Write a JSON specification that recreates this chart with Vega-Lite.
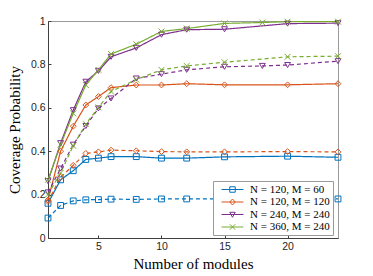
{
  "$schema": "https://vega.github.io/schema/vega-lite/v6.json",
  "width": 290,
  "height": 217,
  "autosize": {"type": "none"},
  "padding": {"left": 48, "top": 21, "right": 35, "bottom": 38},
  "background": "white",
  "config": {
    "view": {"stroke": "#9a9a9a", "strokeWidth": 1},
    "axis": {
      "grid": false,
      "domainColor": "#404040",
      "tickColor": "#404040",
      "tickSize": -3,
      "labelFont": "Liberation Sans",
      "labelFontSize": 10.5,
      "labelColor": "#262626",
      "titleFont": "Liberation Serif",
      "titleFontSize": 15,
      "titleFontWeight": "normal",
      "titleColor": "#000000"
    }
  },
  "datasets": {
    "curves": [
      {"x": 1, "y": 0.16, "series": "N = 120, M = 60", "style": "solid"},
      {"x": 2, "y": 0.268, "series": "N = 120, M = 60", "style": "solid"},
      {"x": 3, "y": 0.31, "series": "N = 120, M = 60", "style": "solid"},
      {"x": 4, "y": 0.362, "series": "N = 120, M = 60", "style": "solid"},
      {"x": 5, "y": 0.368, "series": "N = 120, M = 60", "style": "solid"},
      {"x": 6, "y": 0.375, "series": "N = 120, M = 60", "style": "solid"},
      {"x": 8, "y": 0.375, "series": "N = 120, M = 60", "style": "solid"},
      {"x": 10, "y": 0.368, "series": "N = 120, M = 60", "style": "solid"},
      {"x": 12, "y": 0.368, "series": "N = 120, M = 60", "style": "solid"},
      {"x": 15, "y": 0.374, "series": "N = 120, M = 60", "style": "solid"},
      {"x": 20, "y": 0.377, "series": "N = 120, M = 60", "style": "solid"},
      {"x": 24, "y": 0.372, "series": "N = 120, M = 60", "style": "solid"},
      {"x": 1, "y": 0.092, "series": "N = 120, M = 60", "style": "dashed"},
      {"x": 2, "y": 0.15, "series": "N = 120, M = 60", "style": "dashed"},
      {"x": 3, "y": 0.171, "series": "N = 120, M = 60", "style": "dashed"},
      {"x": 4, "y": 0.176, "series": "N = 120, M = 60", "style": "dashed"},
      {"x": 5, "y": 0.177, "series": "N = 120, M = 60", "style": "dashed"},
      {"x": 6, "y": 0.179, "series": "N = 120, M = 60", "style": "dashed"},
      {"x": 8, "y": 0.178, "series": "N = 120, M = 60", "style": "dashed"},
      {"x": 10, "y": 0.18, "series": "N = 120, M = 60", "style": "dashed"},
      {"x": 12, "y": 0.18, "series": "N = 120, M = 60", "style": "dashed"},
      {"x": 15, "y": 0.18, "series": "N = 120, M = 60", "style": "dashed"},
      {"x": 20, "y": 0.18, "series": "N = 120, M = 60", "style": "dashed"},
      {"x": 24, "y": 0.18, "series": "N = 120, M = 60", "style": "dashed"},
      {"x": 1, "y": 0.175, "series": "N = 120, M = 120", "style": "solid"},
      {"x": 2, "y": 0.4, "series": "N = 120, M = 120", "style": "solid"},
      {"x": 3, "y": 0.515, "series": "N = 120, M = 120", "style": "solid"},
      {"x": 4, "y": 0.613, "series": "N = 120, M = 120", "style": "solid"},
      {"x": 5, "y": 0.652, "series": "N = 120, M = 120", "style": "solid"},
      {"x": 6, "y": 0.693, "series": "N = 120, M = 120", "style": "solid"},
      {"x": 8, "y": 0.705, "series": "N = 120, M = 120", "style": "solid"},
      {"x": 10, "y": 0.705, "series": "N = 120, M = 120", "style": "solid"},
      {"x": 12, "y": 0.711, "series": "N = 120, M = 120", "style": "solid"},
      {"x": 15, "y": 0.706, "series": "N = 120, M = 120", "style": "solid"},
      {"x": 20, "y": 0.706, "series": "N = 120, M = 120", "style": "solid"},
      {"x": 24, "y": 0.711, "series": "N = 120, M = 120", "style": "solid"},
      {"x": 1, "y": 0.168, "series": "N = 120, M = 120", "style": "dashed"},
      {"x": 2, "y": 0.28, "series": "N = 120, M = 120", "style": "dashed"},
      {"x": 3, "y": 0.335, "series": "N = 120, M = 120", "style": "dashed"},
      {"x": 4, "y": 0.39, "series": "N = 120, M = 120", "style": "dashed"},
      {"x": 5, "y": 0.397, "series": "N = 120, M = 120", "style": "dashed"},
      {"x": 6, "y": 0.405, "series": "N = 120, M = 120", "style": "dashed"},
      {"x": 8, "y": 0.402, "series": "N = 120, M = 120", "style": "dashed"},
      {"x": 10, "y": 0.398, "series": "N = 120, M = 120", "style": "dashed"},
      {"x": 12, "y": 0.397, "series": "N = 120, M = 120", "style": "dashed"},
      {"x": 15, "y": 0.397, "series": "N = 120, M = 120", "style": "dashed"},
      {"x": 20, "y": 0.398, "series": "N = 120, M = 120", "style": "dashed"},
      {"x": 24, "y": 0.397, "series": "N = 120, M = 120", "style": "dashed"},
      {"x": 1, "y": 0.262, "series": "N = 240, M = 240", "style": "solid"},
      {"x": 2, "y": 0.437, "series": "N = 240, M = 240", "style": "solid"},
      {"x": 3, "y": 0.589, "series": "N = 240, M = 240", "style": "solid"},
      {"x": 4, "y": 0.72, "series": "N = 240, M = 240", "style": "solid"},
      {"x": 5, "y": 0.77, "series": "N = 240, M = 240", "style": "solid"},
      {"x": 6, "y": 0.835, "series": "N = 240, M = 240", "style": "solid"},
      {"x": 8, "y": 0.876, "series": "N = 240, M = 240", "style": "solid"},
      {"x": 10, "y": 0.937, "series": "N = 240, M = 240", "style": "solid"},
      {"x": 12, "y": 0.96, "series": "N = 240, M = 240", "style": "solid"},
      {"x": 15, "y": 0.962, "series": "N = 240, M = 240", "style": "solid"},
      {"x": 20, "y": 0.988, "series": "N = 240, M = 240", "style": "solid"},
      {"x": 24, "y": 0.99, "series": "N = 240, M = 240", "style": "solid"},
      {"x": 1, "y": 0.21, "series": "N = 240, M = 240", "style": "dashed"},
      {"x": 2, "y": 0.32, "series": "N = 240, M = 240", "style": "dashed"},
      {"x": 3, "y": 0.43, "series": "N = 240, M = 240", "style": "dashed"},
      {"x": 4, "y": 0.516, "series": "N = 240, M = 240", "style": "dashed"},
      {"x": 5, "y": 0.597, "series": "N = 240, M = 240", "style": "dashed"},
      {"x": 6, "y": 0.643, "series": "N = 240, M = 240", "style": "dashed"},
      {"x": 8, "y": 0.735, "series": "N = 240, M = 240", "style": "dashed"},
      {"x": 10, "y": 0.755, "series": "N = 240, M = 240", "style": "dashed"},
      {"x": 12, "y": 0.775, "series": "N = 240, M = 240", "style": "dashed"},
      {"x": 15, "y": 0.789, "series": "N = 240, M = 240", "style": "dashed"},
      {"x": 18, "y": 0.793, "series": "N = 240, M = 240", "style": "dashed"},
      {"x": 20, "y": 0.797, "series": "N = 240, M = 240", "style": "dashed"},
      {"x": 24, "y": 0.815, "series": "N = 240, M = 240", "style": "dashed"},
      {"x": 1, "y": 0.268, "series": "N = 360, M = 240", "style": "solid"},
      {"x": 2, "y": 0.43, "series": "N = 360, M = 240", "style": "solid"},
      {"x": 3, "y": 0.574, "series": "N = 360, M = 240", "style": "solid"},
      {"x": 4, "y": 0.705, "series": "N = 360, M = 240", "style": "solid"},
      {"x": 5, "y": 0.775, "series": "N = 360, M = 240", "style": "solid"},
      {"x": 6, "y": 0.848, "series": "N = 360, M = 240", "style": "solid"},
      {"x": 8, "y": 0.893, "series": "N = 360, M = 240", "style": "solid"},
      {"x": 10, "y": 0.952, "series": "N = 360, M = 240", "style": "solid"},
      {"x": 12, "y": 0.965, "series": "N = 360, M = 240", "style": "solid"},
      {"x": 15, "y": 0.989, "series": "N = 360, M = 240", "style": "solid"},
      {"x": 18, "y": 0.993, "series": "N = 360, M = 240", "style": "solid"},
      {"x": 20, "y": 0.997, "series": "N = 360, M = 240", "style": "solid"},
      {"x": 24, "y": 0.997, "series": "N = 360, M = 240", "style": "solid"},
      {"x": 1, "y": 0.2, "series": "N = 360, M = 240", "style": "dashed"},
      {"x": 2, "y": 0.3, "series": "N = 360, M = 240", "style": "dashed"},
      {"x": 3, "y": 0.425, "series": "N = 360, M = 240", "style": "dashed"},
      {"x": 4, "y": 0.525, "series": "N = 360, M = 240", "style": "dashed"},
      {"x": 5, "y": 0.602, "series": "N = 360, M = 240", "style": "dashed"},
      {"x": 6, "y": 0.675, "series": "N = 360, M = 240", "style": "dashed"},
      {"x": 8, "y": 0.73, "series": "N = 360, M = 240", "style": "dashed"},
      {"x": 10, "y": 0.775, "series": "N = 360, M = 240", "style": "dashed"},
      {"x": 12, "y": 0.793, "series": "N = 360, M = 240", "style": "dashed"},
      {"x": 15, "y": 0.81, "series": "N = 360, M = 240", "style": "dashed"},
      {"x": 20, "y": 0.835, "series": "N = 360, M = 240", "style": "dashed"},
      {"x": 24, "y": 0.838, "series": "N = 360, M = 240", "style": "dashed"}
    ]
  },
  "data": {"name": "curves"},
  "layer": [
    {
      "mark": {"type": "line", "strokeWidth": 1.2},
      "encoding": {
        "x": {"field": "x", "type": "quantitative", "scale": {"domain": [1, 24], "nice": false, "zero": false}, "axis": {"values": [5, 10, 15, 20], "title": "Number of modules", "labelPadding": 6, "titlePadding": 5}},
        "y": {"field": "y", "type": "quantitative", "scale": {"domain": [0, 1], "nice": false}, "axis": {"values": [0, 0.2, 0.4, 0.6, 0.8, 1], "format": ".1~f", "title": "Coverage Probability", "labelPadding": 6, "titlePadding": 8}},
        "color": {"field": "series", "type": "nominal", "scale": {"domain": ["N = 120, M = 60", "N = 120, M = 120", "N = 240, M = 240", "N = 360, M = 240"], "range": ["#0072BD", "#D95319", "#7E2F8E", "#77AC30"]}, "legend": null},
        "strokeDash": {"field": "style", "type": "nominal", "scale": {"domain": ["solid", "dashed"], "range": [[1, 0], [4, 3]]}, "legend": null}
      }
    },
    {
      "mark": {"type": "point", "filled": false, "strokeWidth": 1, "size": 34, "opacity": 1},
      "encoding": {
        "x": {"field": "x", "type": "quantitative"},
        "y": {"field": "y", "type": "quantitative"},
        "color": {"field": "series", "type": "nominal", "scale": {"domain": ["N = 120, M = 60", "N = 120, M = 120", "N = 240, M = 240", "N = 360, M = 240"], "range": ["#0072BD", "#D95319", "#7E2F8E", "#77AC30"]}, "legend": null},
        "shape": {"field": "series", "type": "nominal", "scale": {"domain": ["N = 120, M = 60", "N = 120, M = 120", "N = 240, M = 240", "N = 360, M = 240"], "range": ["square", "diamond", "triangle-down", "M-1,-1L1,1M-1,1L1,-1"]}, "legend": null},
        "detail": {"field": "style", "type": "nominal"}
      }
    },
    {
      "transform": [{"filter": "datum.x > 100"}],
      "mark": {"type": "point", "filled": false, "strokeWidth": 1, "size": 30, "opacity": 1},
      "encoding": {
        "x": {"field": "x", "type": "quantitative"},
        "y": {"field": "y", "type": "quantitative"},
        "color": {"field": "series", "type": "nominal", "scale": {"domain": ["N = 120, M = 60", "N = 120, M = 120", "N = 240, M = 240", "N = 360, M = 240"], "range": ["#0072BD", "#D95319", "#7E2F8E", "#77AC30"]},
          "legend": {"title": null, "orient": "none", "legendX": 165, "legendY": 160, "fillColor": "white", "strokeColor": "#999999", "padding": 3, "rowPadding": 0.5, "symbolSize": 30, "symbolOffset": 11, "labelOffset": 12, "labelFont": "Liberation Serif", "labelFontSize": 11, "labelColor": "#000000", "symbolStrokeWidth": 1}},
        "shape": {"field": "series", "type": "nominal", "scale": {"domain": ["N = 120, M = 60", "N = 120, M = 120", "N = 240, M = 240", "N = 360, M = 240"], "range": ["M-4,0H4M-1,-1H1V1H-1Z", "M-4,0H4M-1,0L0,-1.1L1,0L0,1.1Z", "M-4,0H4M-1,-0.8H1L0,1Z", "M-4,0H4M-1,-1L1,1M-1,1L1,-1"]},
          "legend": {"title": null, "orient": "none", "legendX": 165, "legendY": 160, "fillColor": "white", "strokeColor": "#999999", "padding": 3, "rowPadding": 0.5, "symbolSize": 30, "symbolOffset": 11, "labelOffset": 12, "labelFont": "Liberation Serif", "labelFontSize": 11, "labelColor": "#000000", "symbolStrokeWidth": 1}}
      }
    }
  ],
  "resolve": {"scale": {"shape": "independent", "color": "independent"}}
}
